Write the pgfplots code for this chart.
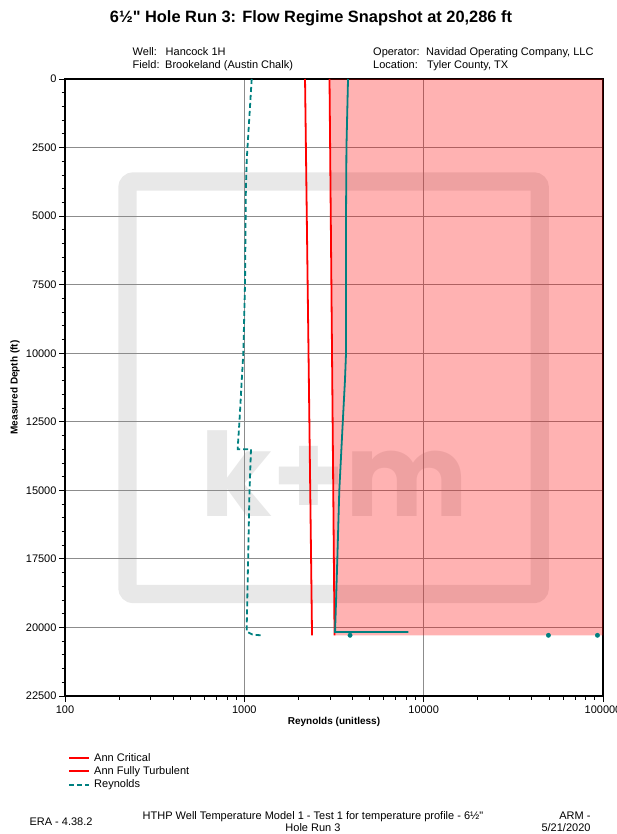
\documentclass[border=0pt]{standalone}
\usepackage{pgfplots}
\pgfplotsset{compat=1.18}
\usepackage{fontspec}
\setmainfont{Liberation Sans}
\newfontfamily\plainfont{Liberation Sans}
\newfontfamily\wmfont{Poppins}
\newcommand\dq{{\plainfont"}}
\definecolor{tealc}{RGB}{0,128,128}
\definecolor{gridc}{RGB}{140,140,140}
\definecolor{wmc}{RGB}{232,232,232}
\definecolor{redc}{RGB}{255,0,0}
\begin{document}
\begin{tikzpicture}
\useasboundingbox (0pt,0pt) rectangle (616pt,834pt);
\begin{scope}[x=1pt,y=1pt]
% watermark (behind the chart)
\draw[wmc, line width=18.4pt, rounded corners=6pt] (127.5,652.5) rectangle (539.7,240);
\node[wmc, anchor=base, inner sep=0pt, font=\wmfont\bfseries\fontsize{116}{116}\selectfont] at (334.5,317.3) {k+m};
% header
\node[anchor=base, inner sep=0pt, font=\bfseries\fontsize{16.4}{19}\selectfont] at (311,811.3) {6½\dq{} Hole Run 3: Flow Regime Snapshot at 20,286 ft};
\begin{scope}[every node/.style={anchor=base west, inner sep=0pt, font=\fontsize{11}{13}\selectfont}]
\node at (132.5,778.0) {Well:};
\node at (165.5,778.0) {Hancock 1H};
\node at (132.5,765.2) {Field:};
\node at (165,765.2) {Brookeland (Austin Chalk)};
\node at (373,778.0) {Operator:};
\node at (426,778.0) {Navidad Operating Company, LLC};
\node at (373,765.2) {Location:};
\node at (427,765.2) {Tyler County, TX};
\end{scope}
% footer
\begin{scope}[every node/.style={inner sep=0pt, font=\fontsize{11}{13}\selectfont}]
\node[anchor=base east] at (92.7,8.4) {ERA - 4.38.2};
\node[anchor=base] at (313,14.7) {HTHP Well Temperature Model 1 - Test 1 for temperature profile - 6½\dq};
\node[anchor=base] at (313,2.1) {Hole Run 3};
\node[anchor=base east] at (590.7,14.7) {ARM -};
\node[anchor=base east] at (590.7,2.1) {5/21/2020};
\end{scope}
\end{scope}
\begin{axis}[
  at={(65pt,138pt)}, anchor=south west, scale only axis,
  width=538pt, height=617pt,
  xmode=log, xmin=100, xmax=100000,
  ymin=0, ymax=22500, y dir=reverse,
  scaled y ticks=false, scaled x ticks=false,
  xtick={100,1000,10000,100000},
  xticklabels={100,1000,10000,100000},
  minor xtick={200,300,400,500,600,700,800,900,2000,3000,4000,5000,6000,7000,8000,9000,20000,30000,40000,50000,60000,70000,80000,90000},
  ytick={0,2500,5000,7500,10000,12500,15000,17500,20000,22500},
  yticklabels={0,2500,5000,7500,10000,12500,15000,17500,20000,22500},
  minor y tick num=4,
  tick pos=left, tick align=outside,
  major tick length=6pt, minor tick length=3.5pt,
  tick style={black, line width=0.8pt},
  xmajorgrids=true, ymajorgrids=true,
  major grid style={gridc, line width=0.8pt},
  axis line style={black, line width=1.5pt},
  tick label style={font=\fontsize{11}{13}\selectfont},
  yticklabel style={xshift=1pt},
  /pgf/number format/assume math mode=true,
  xlabel={Reynolds (unitless)}, ylabel={Measured Depth (ft)},
  label style={font=\bfseries\fontsize{10}{12}\selectfont},
  xlabel style={at={(axis description cs:0.5,-0.042)}, anchor=center},
  ylabel style={at={(axis description cs:-0.093,0.5)}, anchor=center},
  legend style={at={(axis description cs:0.006,-0.0905)}, anchor=north west,
    draw=none, fill=none, font=\fontsize{11}{13}\selectfont,
    inner sep=0pt, row sep=2pt, nodes={inner sep=1pt},
    /tikz/every odd column/.append style={column sep=3pt}},
  legend cell align=left,
  legend image code/.code={\draw[#1] (0pt,0pt) -- (20pt,0pt);},
]
% turbulent region
\addplot[fill=redc, fill opacity=0.3, draw=none, forget plot]
  coordinates {(2985,0) (3184,20286) (100000,20286) (100000,0)} -- cycle;
% Ann Critical
\addplot[redc, line width=1.8pt] coordinates {(2180,0) (2280,10000) (2385,20286)};
\addlegendentry{Ann Critical}
% Ann Fully Turbulent
\addplot[redc, line width=1.8pt] coordinates {(2985,0) (3083,10000) (3184,20286)};
\addlegendentry{Ann Fully Turbulent}
% Reynolds (dashed)
\addplot[tealc, line width=1.8pt, dash pattern=on 5pt off 3pt] coordinates {
  (1099,0) (1064,1500) (1031,2950) (1020,4000) (1009,7430) (987,10000)
  (967,11000) (938,12545) (918,13480) (918,13500) (1089,13500)
  (1067,15200) (1050,17500) (1031,19980) (1031,20150) (1045,20170)
  (1110,20260) (1200,20280) (1276,20286)};
\addlegendentry{Reynolds}
% solid Reynolds profile
\addplot[tealc, line width=1.8pt, forget plot] coordinates {
  (3786,0) (3740,1500) (3710,2500) (3690,5000) (3690,7500) (3690,10000)
  (3640,11000) (3540,12500) (3385,15000) (3300,17500) (3230,19500)
  (3205,20166) (8217,20166)};
% points at 20,286 ft
\addplot[tealc, only marks, mark=*, mark size=2.2pt, forget plot] coordinates {
  (3886,20286) (49620,20286) (93100,20286)};
\end{axis}
\end{tikzpicture}
\end{document}
